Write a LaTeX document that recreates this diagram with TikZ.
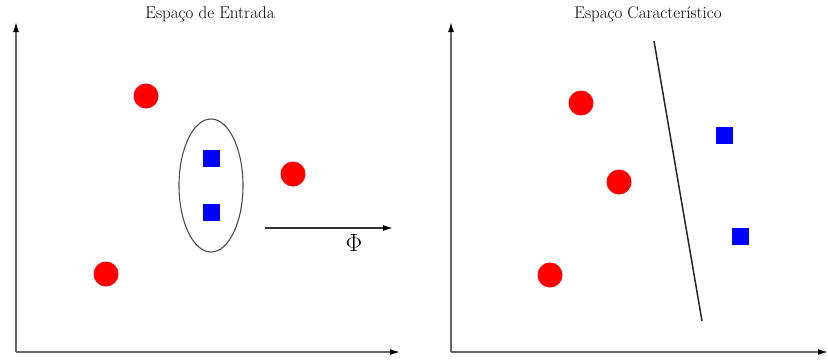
\documentclass[tikz,border=0pt]{standalone}
\usetikzlibrary{arrows.meta}
\begin{document}
\begin{tikzpicture}[x=1pt,y=-1pt,
  axis/.style={draw=gray!80!black,line width=1.5pt,-{Latex[length=10pt,width=6pt,black]}},
  redpt/.style={circle,fill=red,minimum size=25pt,inner sep=0pt},
  bluept/.style={rectangle,fill=blue,minimum size=17pt,inner sep=0pt},
  ttl/.style={font=\fontsize{17}{19}\selectfont}]
\useasboundingbox (0,0) rectangle (828,360);
% left panel
\coordinate (lo) at (16,352);
\coordinate (ly) at (16,22);
\coordinate (lx) at (400,352);
\draw[axis] (lo) -- (ly);
\draw[axis] (lo) -- (lx);
\node[ttl] (t1) at (210,14) {Espaço de Entrada};
\node[redpt] (a1) at (146,96) {};
\node[redpt] (a2) at (293,174) {};
\node[redpt] (a3) at (106,274) {};
\node[bluept] (b1) at (211,158) {};
\node[bluept] (b2) at (211,212) {};
\draw[gray!60!black,line width=1.1pt] (211,185.5) ellipse [x radius=32, y radius=66.5];
\coordinate (p1) at (265,228);
\coordinate (p2) at (393,228);
\draw[draw=black!80,line width=1.5pt,-{Latex[length=10pt,width=6pt,black]}] (p1) -- (p2);
\node[font=\fontsize{23}{25}\selectfont] (phi) at (354,243) {$\Phi$};
% right panel
\coordinate (ro) at (451,352);
\coordinate (ry) at (451,22);
\coordinate (rx) at (828,352);
\draw[axis] (ro) -- (ry);
\draw[axis] (ro) -- (rx);
\node[ttl] (t2) at (648,14) {Espaço Característico};
\node[redpt] (c1) at (581,103) {};
\node[redpt] (c2) at (619,182) {};
\node[redpt] (c3) at (550,275) {};
\node[bluept] (d1) at (724,135) {};
\node[bluept] (d2) at (740,236) {};
\coordinate (s1) at (654,41);
\coordinate (s2) at (702,321);
\draw[black!85,line width=1.5pt] (s1) -- (s2);
\end{tikzpicture}
\end{document}
